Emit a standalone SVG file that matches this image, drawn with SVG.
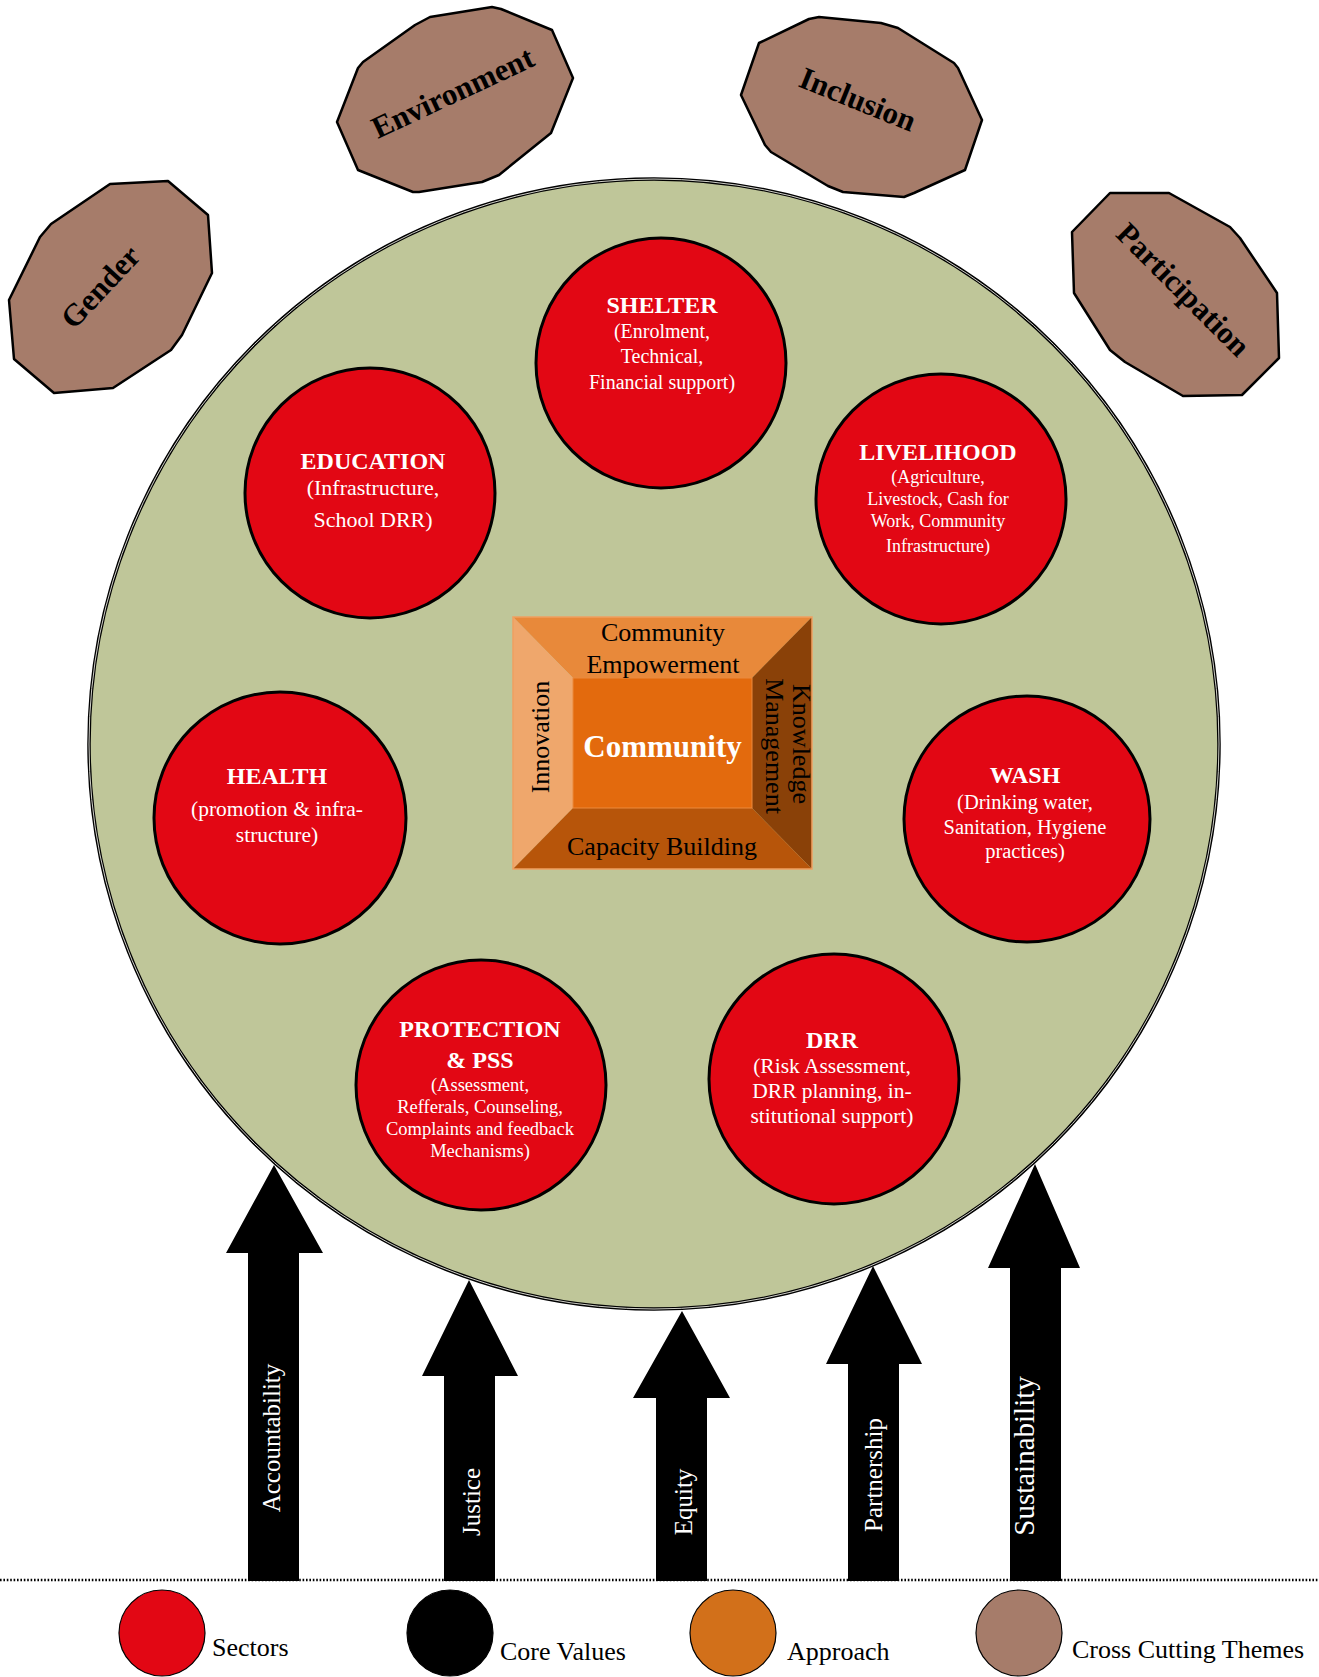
<svg xmlns="http://www.w3.org/2000/svg" width="1319" height="1677" viewBox="0 0 1319 1677">
<style>
.serif{font-family:"Liberation Serif","Times New Roman",serif}
.theme{fill:#A67C6A;stroke:#000;stroke-width:2.5;stroke-linejoin:round}
.theme-t{font-family:"Liberation Serif",serif;font-weight:bold;font-size:31px;fill:#000;text-anchor:middle}
.sector{fill:#E20714;stroke:#000;stroke-width:3}
.st{font-family:"Liberation Serif",serif;font-weight:bold;font-size:24px;fill:#fff;text-anchor:middle}
.ss{font-family:"Liberation Serif",serif;font-size:20px;fill:#fff;text-anchor:middle}
.bx{font-family:"Liberation Serif",serif;font-size:26px;fill:#000;text-anchor:middle}
.arrow{fill:#000}
.at{font-family:"Liberation Serif",serif;font-size:25px;fill:#fff;text-anchor:middle}
.lg{font-family:"Liberation Serif",serif;font-size:26px;fill:#000}
.lgc{stroke:#000;stroke-width:1.2}
</style>
<rect width="1319" height="1677" fill="#fff"/>

<!-- cross cutting themes -->
<g id="gender">
<polygon class="theme" points="110,184 168,181 208,215 212,273 182,335 171,350 113,388 54,393 14,359 9,300 40,237 51,224"/>
<text class="theme-t" transform="translate(108,294) rotate(-47)">Gender</text>
</g>
<g id="environment">
<polygon class="theme" points="430,17 492,7 501,9 552,30 573,78 551,133 499,175 482,182 419,192 413,192 358,170 337,122 358,68 363,62 415,25"/>
<text class="theme-t" transform="translate(457,102) rotate(-25)">Environment</text>
</g>
<g id="inclusion">
<polygon class="theme" points="819,17 881,23 898,28 954,63 958,68 982,120 965,170 914,193 904,197 843,192 828,186 771,152 765,145 741,95 759,43 809,19"/>
<text class="theme-t" transform="translate(854,109) rotate(22)">Inclusion</text>
</g>
<g id="participation">
<polygon class="theme" points="1110,193 1169,193 1230,227 1240,238 1277,293 1279,358 1242,395 1183,396 1125,362 1110,350 1074,293 1072,232"/>
<text class="theme-t" transform="translate(1176,297) rotate(45)">Participation</text>
</g>

<!-- big circle -->
<g id="main-circle">
<circle cx="654" cy="744" r="565" fill="#BFC699" stroke="#000" stroke-width="3.5"/>
<circle cx="654" cy="744" r="565" fill="none" stroke="#e8e8e0" stroke-width="0.9"/>
</g>

<!-- sectors -->
<g id="shelter">
<circle class="sector" cx="661" cy="363" r="125"/>
<text class="st" x="662" y="313">SHELTER</text>
<text class="ss" x="662" y="338" font-size="21">(Enrolment,</text>
<text class="ss" x="662" y="363" font-size="21">Technical,</text>
<text class="ss" x="662" y="389" font-size="21">Financial support)</text>
</g>
<g id="education">
<circle class="sector" cx="370" cy="493" r="125"/>
<text class="st" x="373" y="469">EDUCATION</text>
<text class="ss" x="373" y="495" style="font-size:22px">(Infrastructure,</text>
<text class="ss" x="373" y="527" style="font-size:22px">School DRR)</text>
</g>
<g id="livelihood">
<circle class="sector" cx="941" cy="499" r="125"/>
<text class="st" x="938" y="460">LIVELIHOOD</text>
<text class="ss" x="938" y="483" style="font-size:18px">(Agriculture,</text>
<text class="ss" x="938" y="505" style="font-size:18px">Livestock, Cash for</text>
<text class="ss" x="938" y="527" style="font-size:18px">Work, Community</text>
<text class="ss" x="938" y="552" style="font-size:18px">Infrastructure)</text>
</g>
<g id="health">
<circle class="sector" cx="280" cy="818" r="126"/>
<text class="st" x="277" y="784">HEALTH</text>
<text class="ss" x="277" y="816" style="font-size:21.5px">(promotion &amp; infra-</text>
<text class="ss" x="277" y="842" style="font-size:21.5px">structure)</text>
</g>
<g id="wash">
<circle class="sector" cx="1027" cy="819" r="123"/>
<text class="st" x="1025" y="783">WASH</text>
<text class="ss" x="1025" y="809" style="font-size:20.5px">(Drinking water,</text>
<text class="ss" x="1025" y="834" style="font-size:20.5px">Sanitation, Hygiene</text>
<text class="ss" x="1025" y="858" style="font-size:20.5px">practices)</text>
</g>
<g id="protection">
<circle class="sector" cx="481" cy="1085" r="125"/>
<text class="st" x="480" y="1037">PROTECTION</text>
<text class="st" x="480" y="1068">&amp; PSS</text>
<text class="ss" x="480" y="1091" style="font-size:18.5px">(Assessment,</text>
<text class="ss" x="480" y="1113" style="font-size:18.5px">Refferals, Counseling,</text>
<text class="ss" x="480" y="1135" style="font-size:18.5px">Complaints and feedback</text>
<text class="ss" x="480" y="1157" style="font-size:18.5px">Mechanisms)</text>
</g>
<g id="drr">
<circle class="sector" cx="834" cy="1079" r="125"/>
<text class="st" x="832" y="1048">DRR</text>
<text class="ss" x="832" y="1073" style="font-size:21.5px">(Risk Assessment,</text>
<text class="ss" x="832" y="1098" style="font-size:21.5px">DRR planning, in-</text>
<text class="ss" x="832" y="1123" style="font-size:21.5px">stitutional support)</text>
</g>

<!-- approach box -->
<g id="community">
<polygon points="513,617 812,617 752,678 573,678" fill="#E8893A"/>
<polygon points="513,617 573,678 573,808 513,869" fill="#EFA76C"/>
<polygon points="812,617 812,869 752,808 752,678" fill="#8A4108"/>
<polygon points="513,869 812,869 752,808 573,808" fill="#B7550A"/>
<rect x="573" y="678" width="179" height="130" fill="#E36A0D" stroke="#EC8A3C" stroke-width="1"/>
<rect x="513" y="617" width="299" height="252" fill="none" stroke="#F0A060" stroke-width="1.5"/>
<text class="bx" x="663" y="641">Community</text>
<text class="bx" x="663" y="673">Empowerment</text>
<text class="bx" x="662" y="855">Capacity Building</text>
<text class="bx" transform="translate(549,737) rotate(-90)">Innovation</text>
<text class="bx" transform="translate(793,744) rotate(90)">Knowledge</text>
<text class="bx" transform="translate(766,746) rotate(90)">Management</text>
<text x="662.5" y="757" font-family="Liberation Serif, serif" font-weight="bold" font-size="31" fill="#fff" text-anchor="middle">Community</text>
</g>

<!-- core value arrows -->
<line x1="0" y1="1580" x2="1319" y2="1580" stroke="#000" stroke-width="2.5" stroke-dasharray="1.6 1.8"/>
<g id="connectors">
<g id="accountability">
<polygon class="arrow" points="274,1165 323,1253 299,1253 299,1581 248,1581 248,1253 226,1253"/>
<text class="at" transform="translate(280,1438) rotate(-90)">Accountability</text>
</g>
<g id="justice">
<polygon class="arrow" points="469,1280 518,1376 495,1376 495,1581 444,1581 444,1376 422,1376"/>
<text class="at" transform="translate(480,1502) rotate(-90)">Justice</text>
</g>
<g id="equity">
<polygon class="arrow" points="682,1311 730,1398 707,1398 707,1581 656,1581 656,1398 633,1398"/>
<text class="at" transform="translate(692,1502) rotate(-90)">Equity</text>
</g>
<g id="partnership">
<polygon class="arrow" points="873,1266 922,1364 899,1364 899,1581 848,1581 848,1364 826,1364"/>
<text class="at" transform="translate(882,1475) rotate(-90)">Partnership</text>
</g>
<g id="sustainability">
<polygon class="arrow" points="1035,1164 1080,1268 1061,1268 1061,1581 1010,1581 1010,1268 988,1268"/>
<text class="at" transform="translate(1034,1456) rotate(-90)" style="font-size:29px">Sustainability</text>
</g>
</g>

<!-- legend -->
<g id="legend-sectors">
<circle class="lgc" cx="162" cy="1633" r="43" fill="#E20714"/>
<text class="lg" x="212" y="1656">Sectors</text>
</g>
<g id="legend-core-values">
<circle class="lgc" cx="450" cy="1633" r="43" fill="#000"/>
<text class="lg" x="500" y="1660">Core Values</text>
</g>
<g id="legend-approach">
<circle class="lgc" cx="733" cy="1633" r="43" fill="#D2701A"/>
<text class="lg" x="787" y="1660">Approach</text>
</g>
<g id="legend-cross-cutting">
<circle class="lgc" cx="1019" cy="1633" r="43" fill="#A67C6A"/>
<text class="lg" x="1072" y="1658">Cross Cutting Themes</text>
</g>
</svg>
